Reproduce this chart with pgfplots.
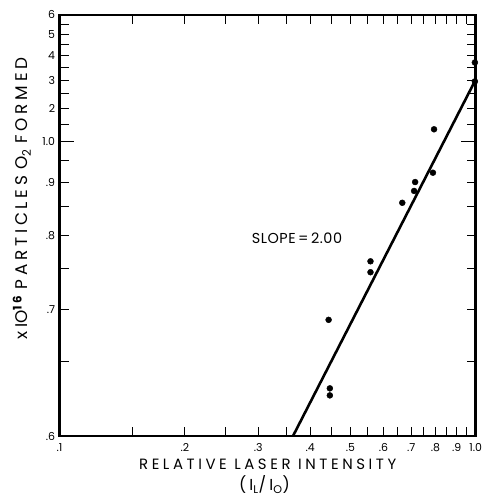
\documentclass[border=0pt]{standalone}
\usepackage{pgfplots}
\pgfplotsset{compat=1.18}
\usepackage{fontspec}
\setmainfont{Poppins}
\begin{document}
\begin{tikzpicture}
\begin{loglogaxis}[
  scale only axis, width=419pt, height=424pt,
  xmin=0.1, xmax=1, ymin=1, ymax=10,
  clip=false,
  axis line style={line width=2.8pt, black},
  tick align=inside,
  major tick length=9pt, minor tick length=9pt,
  every major tick/.append style={line width=1pt, black},
  every minor tick/.append style={line width=1pt, black},
  xtick={0.1,0.2,0.3,0.4,0.5,0.6,0.7,0.8,0.9,1.0},
  xticklabels={.1,.2,.3,.4,.5,.6,.7,.8,.9,1.0},
  minor xtick={0.15,0.25,0.35,0.45,0.55,0.65,0.75,0.85,0.95},
  ytick={1,2,3,4,5,6,7,8,9,10},
  yticklabels={.6,.7,.8,.9,1.0,2,3,4,5,6},
  minor ytick={1.5,2.5,3.5,4.5,5.5,6.5,7.5,8.5,9.5},
  extra y ticks={5}, extra y tick labels={},
  extra y tick style={major tick length=15pt},
  xticklabel style={font=\fontsize{11}{12}\selectfont, yshift=-4pt},
  yticklabel style={font=\fontsize{11}{12}\selectfont, xshift=-1pt},
  /pgf/number format/assume math mode=true,
]
\addplot[black, line width=2.6pt] coordinates {(0.3638,1) (1,7.03)};
\addplot[only marks, mark=*, mark size=3pt, black] coordinates {
(0.443,1.888) (0.446,1.298) (0.446,1.249)
(0.5585,2.60) (0.5585,2.449)
(0.666,3.58) (0.715,4.01) (0.711,3.82)
(0.794,5.35) (0.789,4.22)
(0.995,7.71) (0.995,6.95)
};
\node[anchor=west, font=\fontsize{14.5}{16}\selectfont\addfontfeature{LetterSpace=4}] at (axis cs:0.284,2.95) {SLOPE\,=\,2.00};
\node[font=\fontsize{15}{16}\selectfont\addfontfeature{LetterSpace=24}] at (rel axis cs:0.5,0) [yshift=-28pt] {RELATIVE LASER INTENSITY};
\node[font=\fontsize{16}{16}\selectfont\addfontfeature{LetterSpace=20}] at (rel axis cs:0.492,0) [yshift=-49pt] {(\textrm{I}\textsubscript{L}/\textrm{I}\textsubscript{O})};
\node[xshift=-38pt, rotate=90, font=\fontsize{17}{18}\selectfont\addfontfeature{LetterSpace=22}] at (rel axis cs:0,0.564) {x\textrm{IO}\textsuperscript{\bfseries 16}\hspace{0.35em}PARTICLES\hspace{0.35em}O\textsubscript{2}\hspace{0.35em}FORMED};
\path (rel axis cs:0,0) ++(-60pt,-58pt) coordinate (bbsw);
\path (rel axis cs:1,1) ++(12pt,15pt) coordinate (bbne);
\path (bbsw) rectangle (bbne);
\end{loglogaxis}
\draw[line width=2.8pt, black] (current axis.south west) rectangle (current axis.north east);
\end{tikzpicture}
\end{document}
